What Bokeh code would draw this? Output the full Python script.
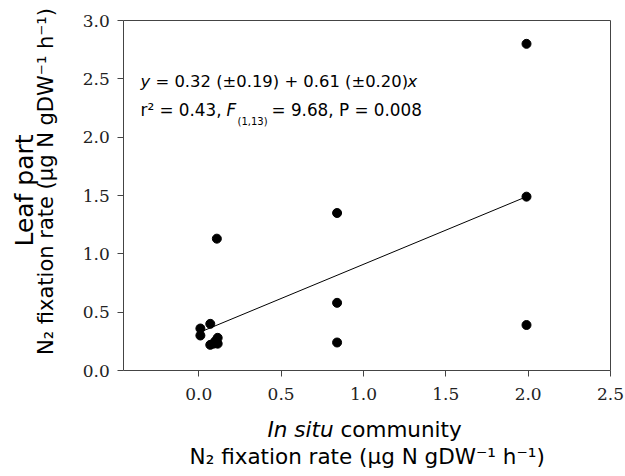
import math
from bokeh.plotting import figure
from bokeh.models import Label, Range1d, FixedTicker, LinearAxis
from bokeh.embed import file_html
from bokeh.resources import INLINE

# data
in_situ = [1.99, 1.99, 1.99, 0.84, 0.84, 0.84, 0.11, 0.07, 0.01, 0.01, 0.115, 0.07, 0.115, 0.09, 0.10]
leaf_part = [2.80, 1.49, 0.39, 1.35, 0.58, 0.24, 1.13, 0.40, 0.36, 0.30, 0.28, 0.22, 0.23, 0.23, 0.25]
fit_x = [0.01, 1.99]
fit_y = [0.33, 1.49]
x_ticks = [0.0, 0.5, 1.0, 1.5, 2.0, 2.5]
x_tick_labels = ["0.0", "0.5", "1.0", "1.5", "2.0", "2.5"]
y_ticks = [0.0, 0.5, 1.0, 1.5, 2.0, 2.5, 3.0]
y_tick_labels = ["0.0", "0.5", "1.0", "1.5", "2.0", "2.5", "3.0"]
x_limits = (-0.455, 2.5)
y_limits = (0.0, 3.0)

# page layout (pixels): the plot box inside the 625x476 canvas
W, H = 625, 476
BL, BR, BT, BB = 123.3, 610.0, 20.0, 370.0
ux = (x_limits[1] - x_limits[0]) / (BR - BL)
uy = (y_limits[1] - y_limits[0]) / (BB - BT)
xr = Range1d(x_limits[0] - BL * ux, x_limits[1] + (W - BR) * ux)
yr = Range1d(y_limits[0] - (H - BB) * uy, y_limits[1] + BT * uy)

p = figure(width=W, height=H, x_range=xr, y_range=yr,
           output_backend="svg", toolbar_location=None,
           min_border_left=0, min_border_right=0, min_border_top=0, min_border_bottom=0)
p.background_fill_color = "white"
p.border_fill_color = "white"
p.outline_line_color = None
p.xgrid.visible = False
p.ygrid.visible = False

AX = "#444444"
xa, ya = p.xaxis[0], p.yaxis[0]
xa.fixed_location = y_limits[0]
xa.bounds = x_limits
ya.fixed_location = x_limits[0]
ya.bounds = y_limits
for ax, ticks, labels in ((xa, x_ticks, x_tick_labels), (ya, y_ticks, y_tick_labels)):
    ax.ticker = FixedTicker(ticks=ticks)
    ax.major_label_overrides = {t: l for t, l in zip(ticks, labels)}
    ax.axis_line_color = AX
    ax.major_tick_line_color = AX
    ax.major_tick_in = 0
    ax.major_tick_out = 6
    ax.minor_tick_line_color = None
    ax.major_label_text_font = "DejaVu Serif"
    ax.major_label_text_font_size = "17px"
    ax.major_label_text_color = "#222222"
xa.major_label_standoff = 11
ya.major_label_standoff = 8

# top and right edges of the box
top = LinearAxis(fixed_location=y_limits[1], bounds=x_limits, ticker=FixedTicker(ticks=[]),
                 axis_line_color=AX, major_tick_line_color=None, minor_tick_line_color=None)
right = LinearAxis(fixed_location=x_limits[1], bounds=y_limits, ticker=FixedTicker(ticks=[]),
                   axis_line_color=AX, major_tick_line_color=None, minor_tick_line_color=None)
p.add_layout(top, "above")
p.add_layout(right, "right")

p.line(fit_x, fit_y, line_color="black", line_width=1)
p.scatter(in_situ, leaf_part, size=9, color="black")

def lab(X, Y, text, size, style="normal", font="DejaVu Sans", angle=0.0, align="left"):
    # X, Y in page pixels (top-left origin); frame covers the whole canvas
    p.add_layout(Label(x=X, y=H - Y, x_units="screen", y_units="screen",
                       text=text, text_font=font, text_font_size=f"{size}px",
                       text_font_style=style, text_color="black",
                       text_baseline="alphabetic", text_align=align, angle=angle))

# regression annotation
lab(140, 81, "y", 16.4, "italic")
lab(155, 81, "= 0.32 (±0.19) + 0.61 (±0.20)", 16.4)
lab(407, 81, "x", 16.4, "italic")
lab(140, 109.5, "r² = 0.43,", 16.8)
lab(226, 109.5, "F", 16.8, "italic")
lab(237, 120.5, "(1,13)", 10)
lab(271, 109.5, "= 9.68, P = 0.008", 16.8)

# x axis title
lab(267, 428.5, "In situ", 21.5, "italic")
lab(340, 428.5, "community", 21.5)
lab(366.7, 456, "N₂ fixation rate (µg N gDW⁻¹ h⁻¹)", 21.5, align="center")

# y axis title
lab(24, 190, "Leaf part", 25, angle=math.pi / 2, align="center")
lab(45.5, 181, "N₂ fixation rate (µg N gDW⁻¹ h⁻¹)", 21, angle=math.pi / 2, align="center")

open("out.html", "w").write(file_html(p, INLINE))
